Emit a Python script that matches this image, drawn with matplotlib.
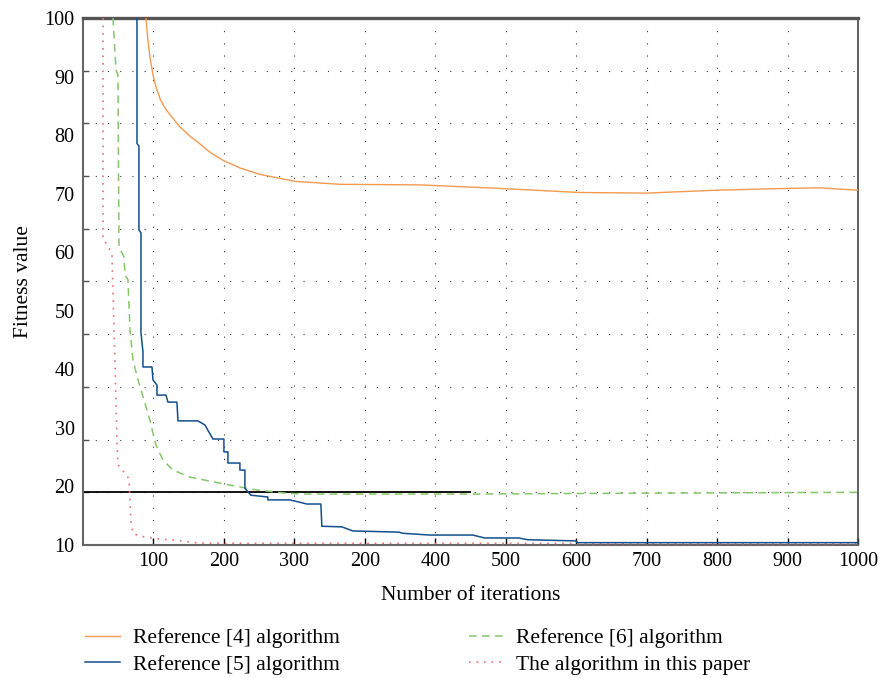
import matplotlib
matplotlib.use("Agg")
import matplotlib.pyplot as plt
import numpy as np

# axis runs in tick-slot units: slot k sits at k*100, labels copied as printed
x_tick_pos = [100, 200, 300, 400, 500, 600, 700, 800, 900, 1000, 1100]
x_tick_labels = ["100", "200", "300", "200", "400", "500", "600", "700", "800", "900", "1000"]
y_tick_vals = [10, 20, 30, 40, 50, 60, 70, 80, 90, 100]
y_grid_vals = [19, 28, 37, 46, 55, 64, 73, 82, 91]

ref4_x = [89.4, 90.8, 92.2, 95, 99.3, 103.5, 110, 116, 124, 137.6, 152, 166, 181, 198.6, 222.7, 251, 300.7,
          364.5, 478, 591.5, 705, 800, 900.7, 1000, 1045, 1099]
ref4_y = [100, 97.9, 96.2, 93.3, 90.3, 88.3, 86.0, 84.7, 83.4, 81.4, 79.8, 78.5, 77.0, 75.7, 74.4, 73.3, 72.1,
          71.6, 71.5, 70.9, 70.2, 70.1, 70.6, 70.9, 71.0, 70.6]

ref5_x = [76.6, 76.6, 79.4, 79.4, 82.3, 82.3, 85.1, 85.1, 97.9, 99.3, 105, 105, 117.7, 120.6, 133.3, 134.8,
          163.1, 173, 184.4, 200, 200, 205.7, 205.7, 222.7, 222.7, 229.8, 229.8, 238.3, 262.4, 262.4, 293.6,
          307.8, 317.7, 337.6, 339, 367.4, 383, 448.2, 453.9, 492.2, 553.2, 570.2, 618.4, 631.2, 699.3, 702, 1099]
ref5_y = [100, 78.6, 78.1, 63.8, 63.3, 46.2, 43.0, 40.4, 40.4, 38.2, 37.3, 35.6, 35.6, 34.4, 34.4, 31.2,
          31.2, 30.5, 28.1, 28.1, 25.9, 25.9, 24.0, 24.0, 22.8, 22.8, 19.7, 18.5, 18.2, 17.7, 17.7,
          17.3, 17.0, 17.0, 13.2, 13.1, 12.4, 12.2, 12.0, 11.7, 11.7, 11.2, 11.2, 10.9, 10.7, 10.4, 10.4]

ref6_x = [42.6, 46.8, 49.6, 51.1, 58.2, 59.6, 63.8, 66.7, 70.9, 78, 86.5, 95, 100.7, 103.5, 113.5, 127.7,
          151.8, 184.4, 222.7, 246.8, 283.7, 307.8, 549, 705, 1099]
ref6_y = [100, 91.1, 90.3, 60.9, 59.2, 56.1, 55.3, 46.7, 41.6, 38.2, 34.8, 31.3, 28.4, 27.1, 24.5, 22.8,
          21.6, 20.8, 19.9, 19.4, 18.9, 18.7, 18.7, 18.8, 19.0]

ours_x = [28.4, 28.4, 35.5, 41.1, 42.6, 44, 46.8, 48.2, 49.6, 55.3, 62.4, 65.2, 66.7, 68.1, 70.9, 80.9,
          109.2, 133.3, 166, 1099]
ours_y = [100, 62.1, 61.2, 59.5, 53.5, 46.7, 34.8, 27.9, 23.7, 22.8, 22.0, 21.1, 17.7, 13.9, 12.0, 11.5,
          11.0, 10.8, 10.3, 10.25]

ref_line_y = 19.05
ref_line_end = 550

plt.rcParams['font.family'] = ['Liberation Serif', 'DejaVu Serif']

fig = plt.figure(figsize=(8.81, 6.78), dpi=100)
ax = fig.add_axes([83 / 881, 1 - 545 / 678, 775 / 881, 527 / 678])

ax.plot(ref4_x, ref4_y, color='#F39A4F', lw=1.0, label='Reference [4] algorithm', zorder=3)
ax.plot(ref5_x, ref5_y, color='#134F8C', lw=1.1, label='Reference [5] algorithm', zorder=4)
ax.plot(ref6_x, ref6_y, color='#86C66A', lw=1.1, dashes=(5, 3.5), label='Reference [6] algorithm', zorder=3)
ax.plot(ours_x, ours_y, color='#EE6E6E', lw=1.2, linestyle=(0, (1, 3.5)), label='The algorithm in this paper', zorder=3)
ax.plot([0, ref_line_end], [ref_line_y, ref_line_y], color='black', lw=1.3, zorder=2)

ax.set_xlim(0, 1100)
ax.set_ylim(10, 100)

ax.set_xticks(x_tick_pos)
ax.set_xticklabels(x_tick_labels, fontsize=14.5)
ax.set_yticks(y_tick_vals)
ax.set_yticklabels([str(v) for v in y_tick_vals], fontsize=14.5)
ax.set_yticks(y_grid_vals, minor=True)

ax.tick_params(axis='x', which='major', direction='in', length=5, width=1, color='black', pad=5)
ax.tick_params(axis='y', which='major', length=0, pad=6)
ax.tick_params(axis='y', which='minor', direction='in', length=4, width=1, color='#555555')

ax.grid(axis='x', which='major', color='#333333', linestyle=(0, (1, 10)), linewidth=0.8)
ax.grid(axis='y', which='minor', color='#333333', linestyle=(0, (1, 10)), linewidth=0.8)

ax.spines['top'].set_linewidth(2.4)
ax.spines['top'].set_color('#555555')
ax.spines['left'].set_linewidth(1.5)
ax.spines['left'].set_color('#666666')
ax.spines['bottom'].set_linewidth(1.5)
ax.spines['bottom'].set_color('#666666')
ax.spines['right'].set_linewidth(1.2)
ax.spines['right'].set_color('#444444')

ax.set_xlabel('Number of iterations', fontsize=15.5, labelpad=11)
ax.set_ylabel('Fitness value', fontsize=15.5, labelpad=8)

handles, labels = ax.get_legend_handles_labels()
fig.legend(handles, labels, ncol=2, frameon=False, fontsize=15.5,
           loc='upper left', bbox_to_anchor=(66 / 881, 1 - 609 / 678),
           handlelength=1.6, handletextpad=0.6, columnspacing=6.0, labelspacing=0.3)

fig.savefig('out.png', dpi=100)
